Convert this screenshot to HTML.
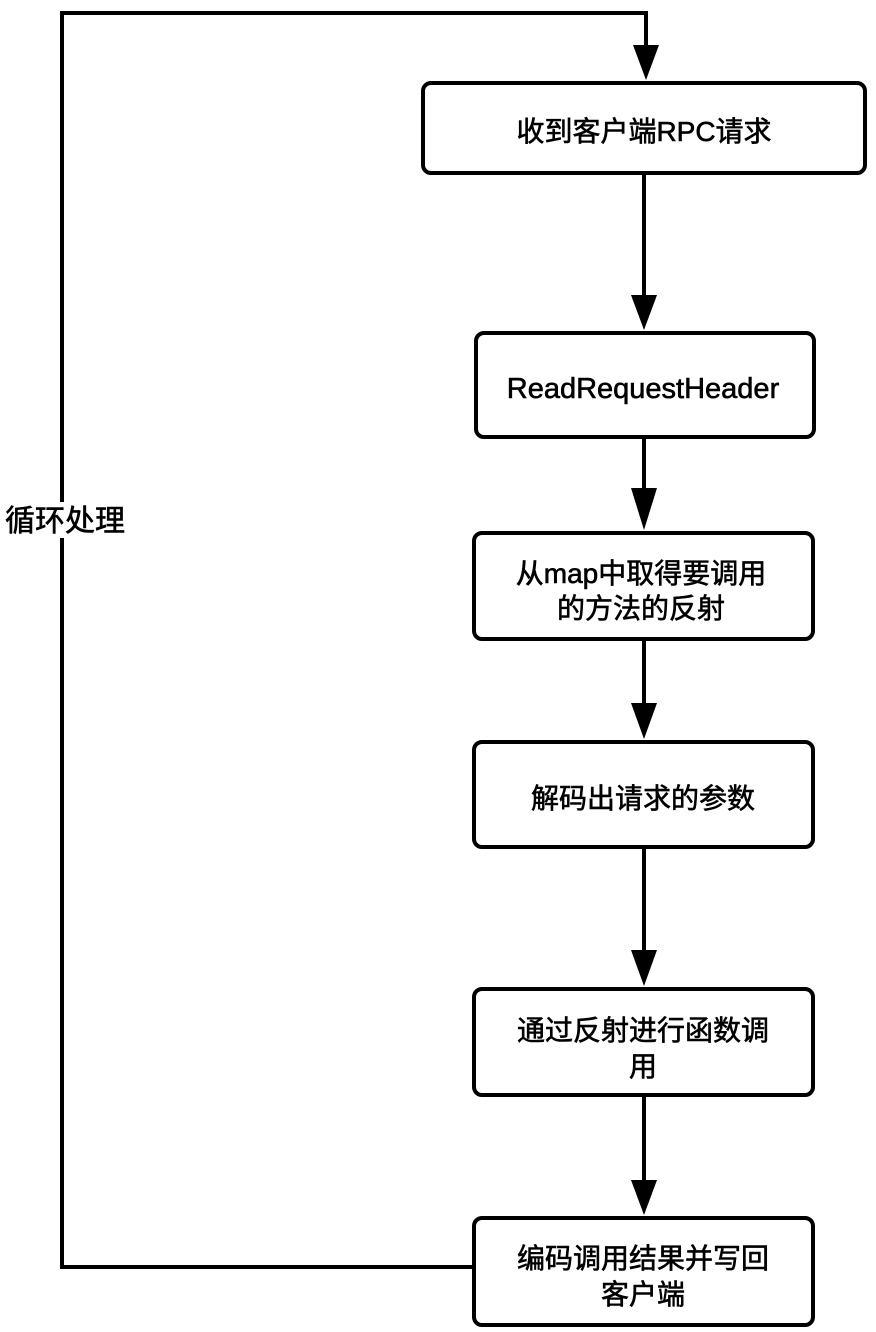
<!DOCTYPE html>
<html><head><meta charset="utf-8"><style>
body{margin:0;background:#fff;}
svg{display:block}
text{font-family:"Liberation Sans","Noto Sans CJK SC",sans-serif;fill:#000;stroke:#000;stroke-width:0.6;}
</style></head><body>
<svg width="876" height="1332" viewBox="0 0 876 1332" xmlns="http://www.w3.org/2000/svg">
<g fill="none" stroke="#000" stroke-width="4">
<polyline points="474,1267 62,1267 62,13 646,13 646,55"/>
<line x1="644" y1="174" x2="644" y2="300"/>
<line x1="644" y1="437" x2="644" y2="500"/>
<line x1="644" y1="639" x2="644" y2="710"/>
<line x1="644" y1="847" x2="644" y2="955"/>
<line x1="644" y1="1095" x2="644" y2="1185"/>
<rect x="423" y="83" width="442" height="90" rx="8"/>
<rect x="476" y="333" width="338" height="104" rx="8"/>
<rect x="474" y="533" width="339" height="106" rx="8"/>
<rect x="474" y="742" width="339" height="105" rx="8"/>
<rect x="474" y="989" width="339" height="106" rx="8"/>
<rect x="474" y="1218" width="339" height="107" rx="8"/>
</g>
<g fill="#000">
<polygon points="633,45 659,45 646,80"/>
<polygon points="631,295 657,295 644,330"/>
<polygon points="631,488 657,488 644,530"/>
<polygon points="631,703 657,703 644,739"/>
<polygon points="631,950 657,950 644,986"/>
<polygon points="631,1180 657,1180 644,1215"/>
</g>
<rect x="2" y="502" width="126" height="36" fill="#fff"/>
<g font-size="28" text-anchor="middle">
<text x="644" y="141">收到客户端RPC请求</text>
<text x="643" y="398" font-size="29">ReadRequestHeader</text>
<text x="641" y="583">从map中取得要调用</text>
<text x="641" y="618">的方法的反射</text>
<text x="643" y="808">解码出请求的参数</text>
<text x="643" y="1040">通过反射进行函数调</text>
<text x="643" y="1076">用</text>
<text x="643" y="1268">编码调用结果并写回</text>
<text x="643" y="1304">客户端</text>
<text x="65" y="531" font-size="30">循环处理</text>
</g>
</svg>
</body></html>
